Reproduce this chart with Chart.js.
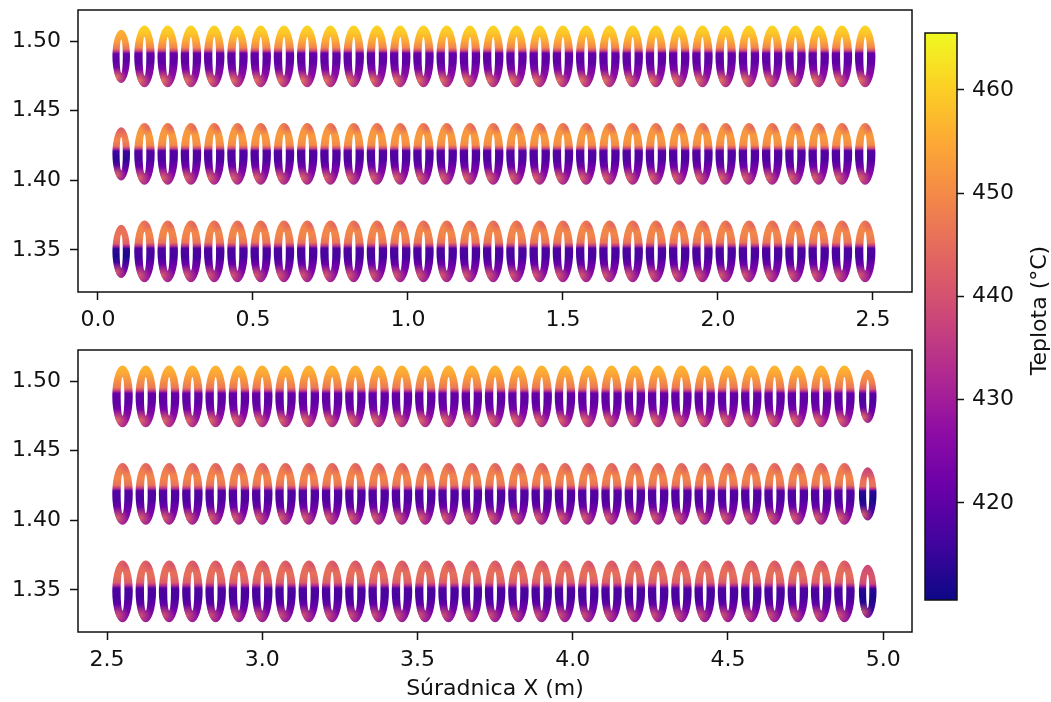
<!DOCTYPE html>
<html>
<head>
<meta charset="utf-8">
<script src="https://cdn.jsdelivr.net/npm/chart.js@4.4.1/dist/chart.umd.min.js"></script>
<style>
  body { margin: 0; background: #fff; }
  #wrap { position: relative; width: 1051px; height: 702px; }
  canvas { position: absolute; }
</style>
</head>
<body>
<div id="wrap">
  <canvas id="topPlot" width="920" height="340" style="left:0;top:0"></canvas>
  <canvas id="bottomPlot" width="920" height="362" style="left:0;top:340px"></canvas>
  <canvas id="colorbar" width="151" height="702" style="left:900px;top:0"></canvas>
</div>
<script>
// tube centres (m)
const topPlotX = [0.075, 0.15, 0.225, 0.3, 0.375, 0.45, 0.525, 0.6, 0.675, 0.75, 0.825, 0.9, 0.975,
  1.05, 1.125, 1.2, 1.275, 1.35, 1.425, 1.5, 1.575, 1.65, 1.725, 1.8, 1.875, 1.95, 2.025, 2.1,
  2.175, 2.25, 2.325, 2.4, 2.475];
const bottomPlotX = [2.55, 2.625, 2.7, 2.775, 2.85, 2.925, 3.0, 3.075, 3.15, 3.225, 3.3, 3.375, 3.45,
  3.525, 3.6, 3.675, 3.75, 3.825, 3.9, 3.975, 4.05, 4.125, 4.2, 4.275, 4.35, 4.425, 4.5, 4.575,
  4.65, 4.725, 4.8, 4.875, 4.95];
const rowY = [1.489, 1.419, 1.349];

// temperature (°C) read top -> bottom around each tube, one list per row
const topRow1T = [461, 459, 455, 449, 438, 421, 420, 424, 427, 430];
const topRow2T = [448, 452, 452.5, 450, 439, 419, 418, 422, 426, 429];
const topRow3T = [447, 449.5, 449, 446, 435, 418, 417, 421, 425, 428];
const botRow1T = [457, 455, 451, 447, 436, 421, 420, 423, 427, 430];
const botRow2T = [445, 448, 449, 446, 435, 419, 418, 421, 425, 428];
const botRow3T = [443, 445, 445, 442, 432, 418, 417, 420, 424, 427];

// the narrow end tubes
const topEdgeT = [
  [456, 455, 452, 446, 434, 421, 420, 423, 426, 429],
  [441, 446, 449, 445, 432, 416, 414, 418, 423, 427],
  [444, 446, 446, 442, 430, 414, 412, 416, 422, 427]
];
const botEdgeT = [
  [451, 451, 448, 442, 430, 419, 418, 420, 423, 427],
  [437, 440, 446, 446, 432, 414, 412, 414, 418, 424],
  [438, 440, 441, 438, 428, 414, 412, 413, 415, 422]
];
// warm patch low on the left side / cooler patch at the crown
const topSpotT = [448, 445, 443];
const botSpotT = [446, 444, 441];
const topCapT = [null, 443, 443];
const botCapT = [null, 442, 440];

const xTicksTop = [0.0, 0.5, 1.0, 1.5, 2.0, 2.5];
const xTicksBottom = [2.5, 3.0, 3.5, 4.0, 4.5, 5.0];
const yTicks = [1.35, 1.40, 1.45, 1.50];
const cbTicks = [420, 430, 440, 450, 460];
const cbMin = 410.6, cbMax = 465.5;

// ring geometry (data units) and gradient stop positions
const RING_RX = 0.033, RING_RY = 0.0222;
const HOLE_RX = 0.006, HOLE_RY = 0.014;
const EDGE_SCALE = 0.86;
const ringStops = [0, 0.12, 0.25, 0.36, 0.41, 0.45, 0.6, 0.7, 0.86, 1];

const PLASMA = ['#0d0887', '#41049d', '#6a00a8', '#8f0da4', '#b12a90', '#cc4778',
  '#e16462', '#f2844b', '#fca636', '#fcce25', '#f0f921'];
const plasmaRgb = PLASMA.map(h => [1, 3, 5].map(i => parseInt(h.substr(i, 2), 16)));

function plasma(t) {
  t = Math.min(1, Math.max(0, t)) * (plasmaRgb.length - 1);
  const i = Math.min(plasmaRgb.length - 2, Math.floor(t)), f = t - i;
  const a = plasmaRgb[i], b = plasmaRgb[i + 1];
  return a.map((v, k) => Math.round(v + (b[k] - v) * f));
}
function tempRgb(T) { return plasma((T - cbMin) / (cbMax - cbMin)); }
function rgba(c, a) { return `rgba(${c[0]},${c[1]},${c[2]},${a})`; }

Chart.defaults.font.family = 'DejaVu Sans';
Chart.defaults.font.size = 22;
Chart.defaults.color = '#111';

function ringPath(ctx, cx, cy, rx, ry, irx, iry) {
  ctx.beginPath();
  ctx.ellipse(cx, cy, rx, ry, 0, 0, Math.PI * 2);
  ctx.moveTo(cx + irx, cy);
  ctx.ellipse(cx, cy, irx, iry, 0, 0, Math.PI * 2);
}

function patch(ctx, x, y, r, T) {
  const c = tempRgb(T);
  const g = ctx.createRadialGradient(x, y, 0, x, y, r);
  g.addColorStop(0, rgba(c, 0.9));
  g.addColorStop(1, rgba(c, 0));
  ctx.fillStyle = g;
  ctx.fillRect(x - r, y - r, 2 * r, 2 * r);
}

const ringsPlugin = {
  id: 'rings',
  afterDatasetsDraw(chart) {
    const ctx = chart.ctx, xs = chart.scales.x, ys = chart.scales.y, a = chart.chartArea;
    ctx.save();
    ctx.beginPath();
    ctx.rect(a.left, a.top, a.right - a.left, a.bottom - a.top);
    ctx.clip();
    chart.data.datasets.forEach((ds, di) => {
      chart.getDatasetMeta(di).data.forEach((pt, i) => {
        const d = ds.data[i];
        const edge = i === ds.edgeIndex;
        const k = edge ? EDGE_SCALE : 1;
        const temps = edge ? ds.edgeTemps : ds.temps;
        const cx = pt.x, cy = pt.y;
        const rx = (xs.getPixelForValue(d.x + RING_RX) - cx) * k;
        const ry = (cy - ys.getPixelForValue(d.y + RING_RY)) * k;
        const irx = (xs.getPixelForValue(d.x + HOLE_RX) - cx) * k;
        const iry = (cy - ys.getPixelForValue(d.y + HOLE_RY)) * k;
        const g = ctx.createLinearGradient(0, cy - ry, 0, cy + ry);
        ringStops.forEach((s, j) => g.addColorStop(s, rgba(tempRgb(temps[j]), 1)));
        ringPath(ctx, cx, cy, rx, ry, irx, iry);
        ctx.fillStyle = g;
        ctx.fill('evenodd');
        ctx.save();
        ringPath(ctx, cx, cy, rx, ry, irx, iry);
        ctx.clip('evenodd');
        patch(ctx, cx - 0.5 * rx, cy + 0.78 * ry, 0.36 * ry, ds.spot);
        if (ds.cap !== null && !edge) patch(ctx, cx + 0.35 * rx, cy - 0.86 * ry, 0.24 * ry, ds.cap);
        ctx.restore();
      });
    });
    ctx.restore();
  }
};

const framePlugin = {
  id: 'frame',
  afterDraw(chart) {
    const a = chart.chartArea, ctx = chart.ctx;
    ctx.save();
    ctx.strokeStyle = '#111';
    ctx.lineWidth = 1.5;
    ctx.strokeRect(a.left, a.top, a.right - a.left, a.bottom - a.top);
    ctx.restore();
  }
};

function noPad(s) { s.paddingTop = 0; s.paddingBottom = 0; s.paddingLeft = 0; s.paddingRight = 0; }

function makePlot(id, xs, edgeIndex, rows, edgeRows, spots, caps, xMin, xMax, xTicks, axisH, title) {
  const datasets = rowY.map((y, r) => ({
    data: xs.map(x => ({ x, y })),
    temps: rows[r],
    edgeTemps: edgeRows[r],
    edgeIndex,
    spot: spots[r],
    cap: caps[r],
    pointRadius: 0,
    showLine: false
  }));
  new Chart(document.getElementById(id), {
    type: 'scatter',
    data: { datasets },
    plugins: [ringsPlugin, framePlugin],
    options: {
      responsive: false,
      animation: false,
      events: [],
      layout: { padding: { left: 0, right: 8, top: 10, bottom: 0 } },
      plugins: { legend: { display: false }, tooltip: { enabled: false } },
      scales: {
        x: {
          type: 'linear', min: xMin, max: xMax,
          afterBuildTicks: s => { s.ticks = xTicks.map(v => ({ value: v })); },
          afterFit: s => { s.height = axisH; noPad(s); },
          grid: { drawOnChartArea: false, tickLength: 8, tickWidth: 1.5, tickColor: '#111' },
          border: { display: false },
          ticks: { padding: 7, maxRotation: 0, callback: v => v.toFixed(1) },
          title: { display: !!title, text: title || '', padding: { top: 0, bottom: 0 } }
        },
        y: {
          type: 'linear', min: 1.3198, max: 1.5223,
          afterBuildTicks: s => { s.ticks = yTicks.map(v => ({ value: v })); },
          afterFit: s => { s.width = 78; noPad(s); },
          grid: { drawOnChartArea: false, tickLength: 8, tickWidth: 1.5, tickColor: '#111' },
          border: { display: false },
          ticks: { padding: 9, callback: v => v.toFixed(2) }
        }
      }
    }
  });
}

makePlot('topPlot', topPlotX, 0, [topRow1T, topRow2T, topRow3T], topEdgeT, topSpotT, topCapT,
  -0.0644, 2.626, xTicksTop, 48, null);
makePlot('bottomPlot', bottomPlotX, bottomPlotX.length - 1, [botRow1T, botRow2T, botRow3T], botEdgeT,
  botSpotT, botCapT, 2.4066, 5.0926, xTicksBottom, 70, 'Súradnica X (m)');

// colour bar
const colorbarPlugin = {
  id: 'cbar',
  beforeDatasetsDraw(chart) {
    const a = chart.chartArea, ctx = chart.ctx, y = chart.scales.y;
    const g = ctx.createLinearGradient(0, y.getPixelForValue(cbMin), 0, y.getPixelForValue(cbMax));
    PLASMA.forEach((c, i) => g.addColorStop(i / (PLASMA.length - 1), c));
    ctx.save();
    ctx.fillStyle = g;
    ctx.fillRect(a.left, a.top, a.right - a.left, a.bottom - a.top);
    ctx.strokeStyle = '#111';
    ctx.lineWidth = 1.5;
    ctx.strokeRect(a.left, a.top, a.right - a.left, a.bottom - a.top);
    ctx.translate(140, (a.top + a.bottom) / 2 - 6);
    ctx.rotate(-Math.PI / 2);
    ctx.fillStyle = '#111';
    ctx.font = '22px "DejaVu Sans"';
    ctx.textAlign = 'center';
    ctx.textBaseline = 'middle';
    ctx.fillText('Teplota (°C)', 0, 0);
    ctx.restore();
  }
};

new Chart(document.getElementById('colorbar'), {
  type: 'scatter',
  data: { datasets: [{ data: [], pointRadius: 0 }] },
  plugins: [colorbarPlugin],
  options: {
    responsive: false,
    animation: false,
    events: [],
    layout: { padding: { left: 25, right: 0, top: 33, bottom: 102 } },
    plugins: { legend: { display: false }, tooltip: { enabled: false } },
    scales: {
      x: { display: false },
      y: {
        type: 'linear', position: 'right', min: cbMin, max: cbMax,
        afterBuildTicks: s => { s.ticks = cbTicks.map(v => ({ value: v })); },
        afterFit: s => { s.width = 94; noPad(s); },
        grid: { drawOnChartArea: false, tickLength: 7, tickWidth: 1.5, tickColor: '#111' },
        border: { display: false },
        ticks: { padding: 8, callback: v => String(v) }
      }
    }
  }
});
</script>
</body>
</html>
